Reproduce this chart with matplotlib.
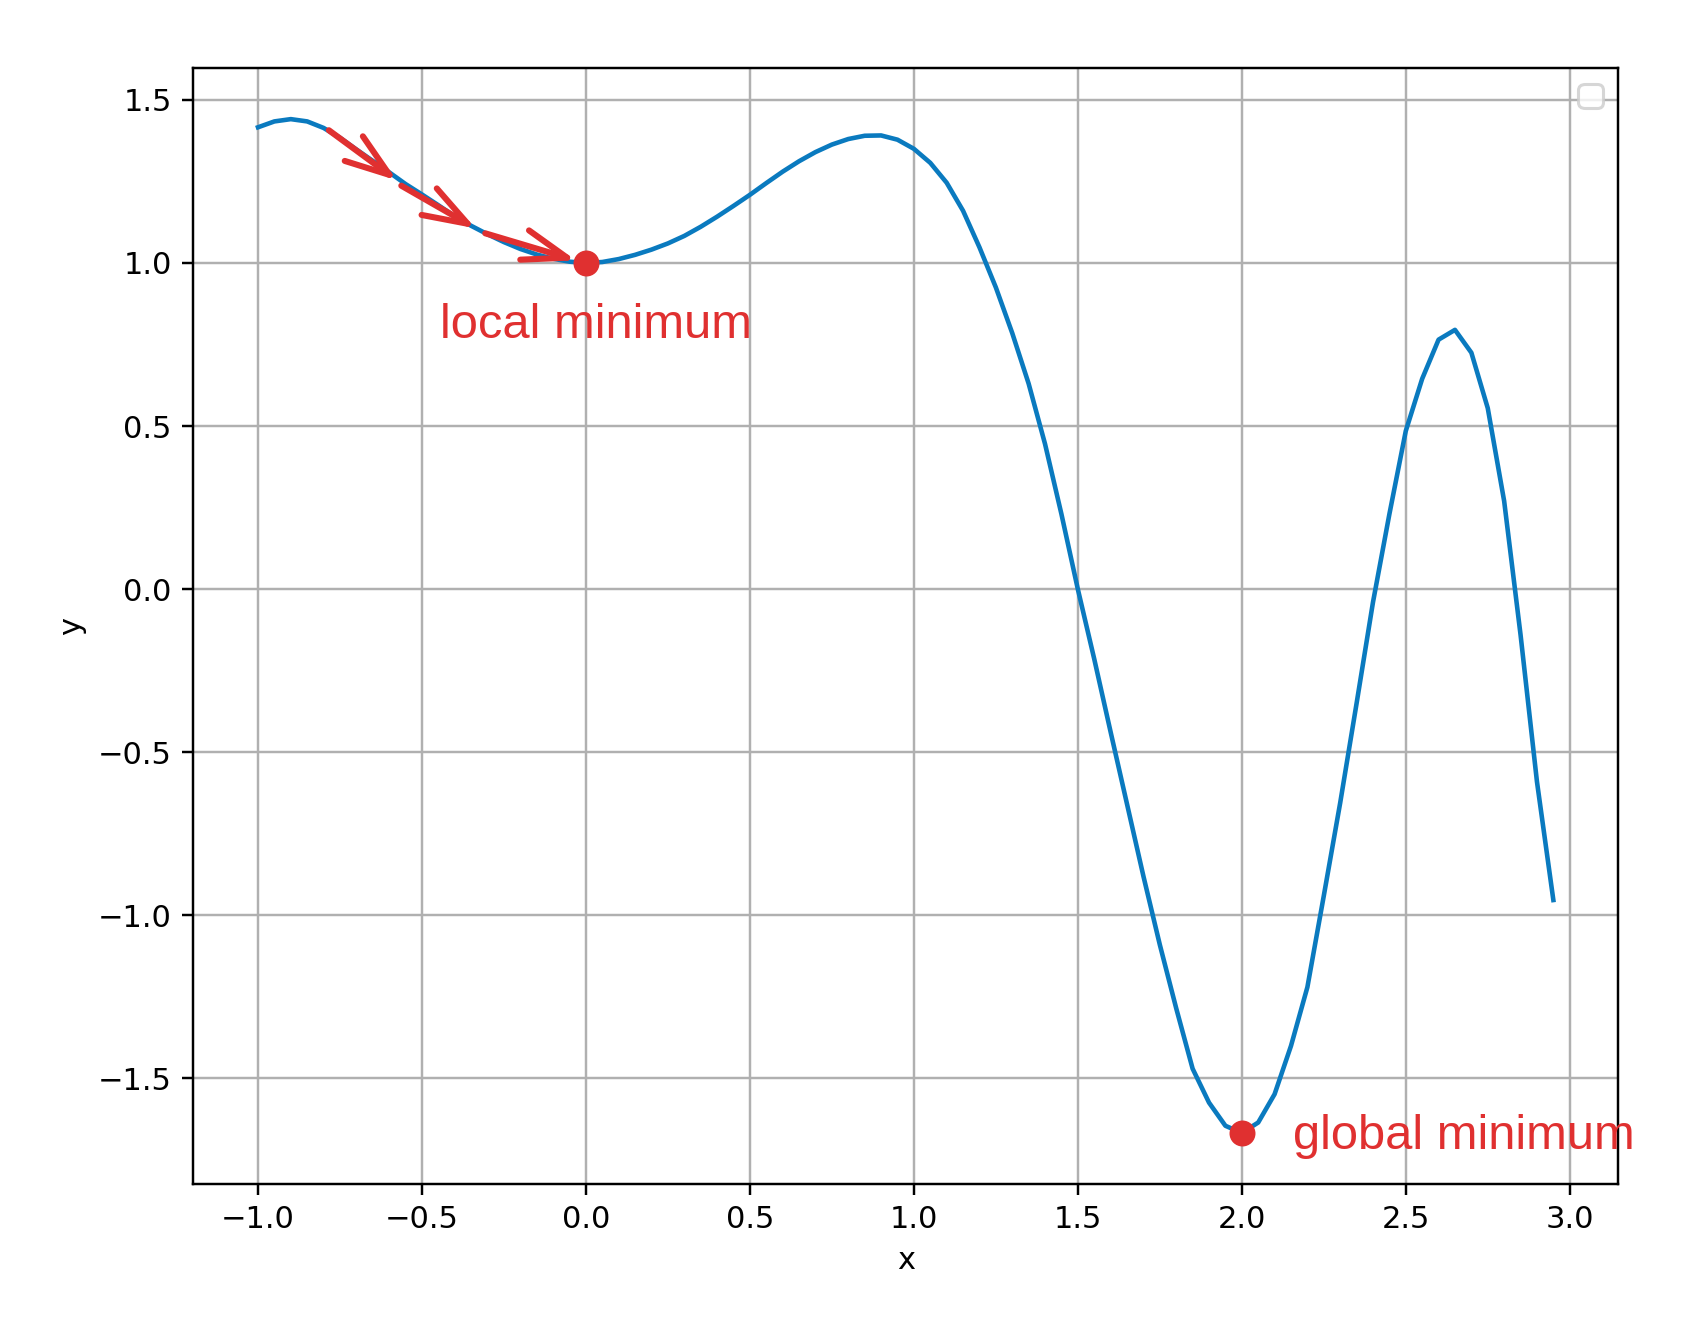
import matplotlib
matplotlib.use("Agg")
import matplotlib.pyplot as plt

# curve, step 0.05 from -1.0 to 2.95
x_vals = [round(-1.0 + 0.05 * i, 2) for i in range(80)]
y_vals = [
    1.416, 1.434, 1.441, 1.434, 1.414, 1.384, 1.348, 1.313, 1.278, 1.242,
    1.210, 1.177, 1.143, 1.114, 1.088, 1.064, 1.043, 1.026, 1.013, 1.004,
    1.000, 1.003, 1.012, 1.025, 1.041, 1.060, 1.083, 1.111, 1.142, 1.175,
    1.209, 1.245, 1.280, 1.312, 1.340, 1.363, 1.380, 1.390, 1.391, 1.378,
    1.350, 1.307, 1.246, 1.160, 1.048, 0.925, 0.785, 0.630, 0.445, 0.230,
    0.000, -0.214, -0.438, -0.659, -0.880, -1.090, -1.285, -1.470, -1.574, -1.645,
    -1.667, -1.635, -1.548, -1.400, -1.220, -0.940, -0.655, -0.350, -0.040, 0.230,
    0.485, 0.645, 0.765, 0.795, 0.725, 0.555, 0.270, -0.140, -0.590, -0.953,
]

minima_x = [0.0, 2.0]
minima_y = [1.0, -1.667]
minima_labels = ["local minimum", "global minimum"]
label_pos = [(-0.445, 0.77), (2.155, -1.715)]

# gradient steps drawn toward the local minimum
steps = [
    ((-0.784, 1.407), (-0.576, 1.253)),
    ((-0.563, 1.237), (-0.336, 1.106)),
    ((-0.307, 1.091), (-0.030, 1.008)),
]

RED = "#e03030"

fig = plt.figure(figsize=(1704 / 220, 1342 / 220), dpi=220)
ax = fig.add_axes([0.1134, 0.118, 0.8362, 0.831])

ax.plot(x_vals, y_vals, color="#0a7abf", lw=1.5)
ax.grid(True)
ax.set_xlabel("x")
ax.set_ylabel("y")
ax.legend(handles=[], loc="upper right")

for start, end in steps:
    ax.annotate("", xy=end, xytext=start,
                arrowprops=dict(arrowstyle="->,head_length=1.45,head_width=0.5",
                                color=RED, lw=2.0, shrinkA=0, shrinkB=0))

ax.plot(minima_x, minima_y, "o", color=RED, ms=7.5, zorder=5)
for (tx, ty), label in zip(label_pos, minima_labels):
    ax.text(tx, ty, label, color=RED, fontsize=16, family="Liberation Sans",
            ha="left", va="baseline")

fig.savefig("out.png", dpi=220)
